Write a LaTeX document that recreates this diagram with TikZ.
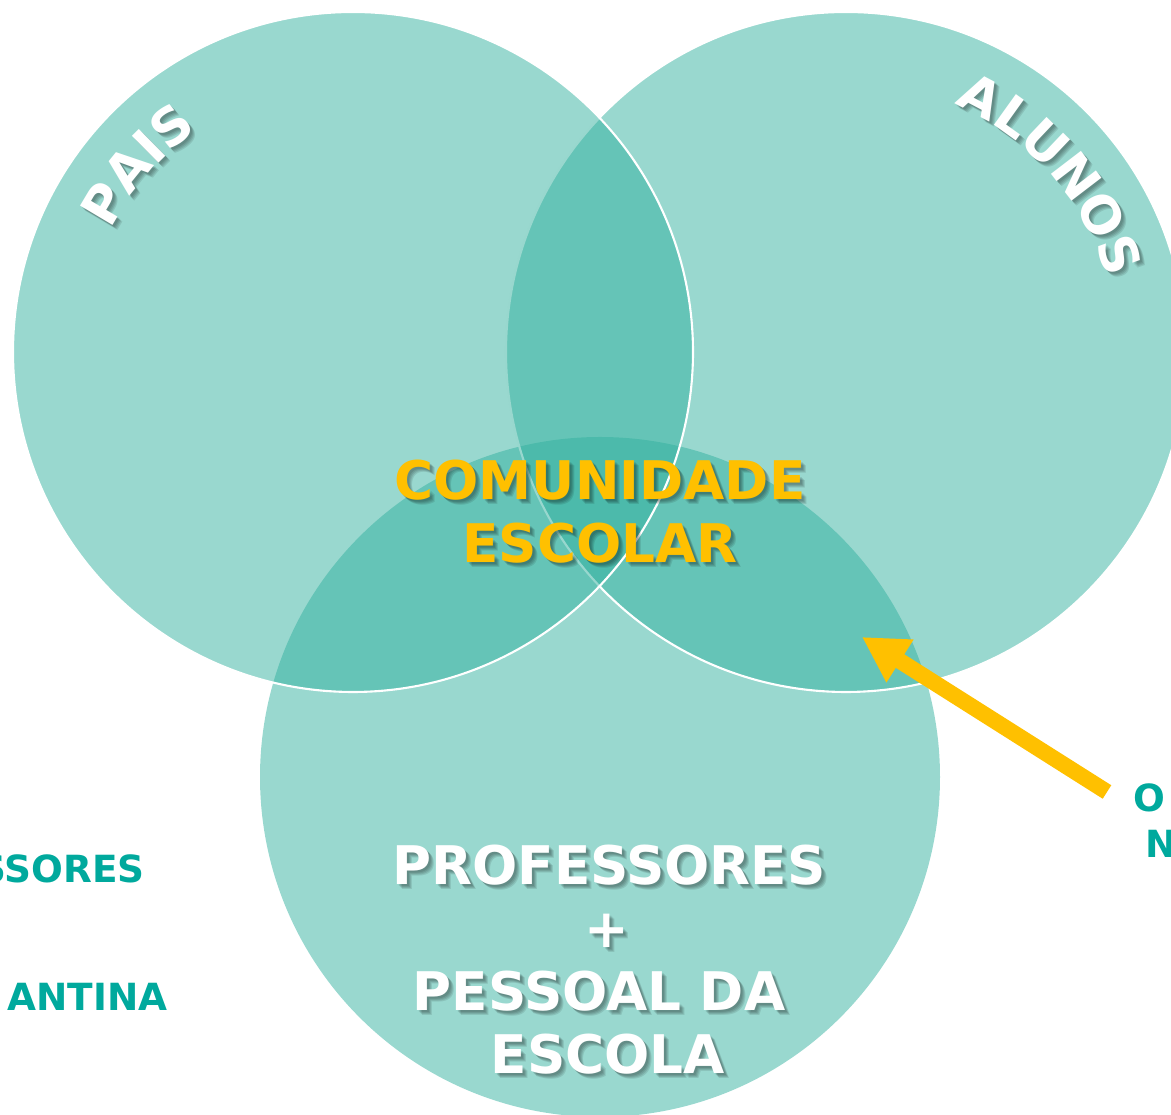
\documentclass[tikz,border=0pt]{standalone}
\usepackage{fontspec}
\setmainfont{DejaVu Sans}
\usetikzlibrary{arrows.meta,decorations.text}

\definecolor{circfill}{RGB}{51,177,159}
\definecolor{gold}{RGB}{255,192,0}
\definecolor{tealtext}{RGB}{0,169,157}

\newcommand\bigfont{\bfseries\fontsize{30.3}{36}\selectfont}
\newcommand\arcfont{\bfseries\fontsize{29.5}{32}\selectfont}
\newcommand\sidefont{\bfseries\fontsize{21.3}{25}\selectfont}

% text with a soft shadow: name, position, colour, text
\newcommand\shadowtext[4]{%
  \foreach \d in {2,3,4,5}
    \node[bigtext, text=black, opacity=0.1] at ([shift={(\d,-\d)}]#2) {#4};
  \node[bigtext, text=#3] (#1) at (#2) {#4};
}

\begin{document}
\begin{tikzpicture}[x=0.02cm, y=0.02cm,
    circ/.style={fill=circfill, fill opacity=0.5, draw=white, line width=1.2pt},
    bigtext/.style={font=\bigfont, anchor=base, inner sep=0},
    sidetext/.style={font=\sidefont, text=tealtext, inner sep=0},
    arctext/.style={decorate, decoration={text along path, text={|\arcfont|#1}, text align=center, text color=white}},
    arcshadow/.style={decorate, decoration={text along path, text={|\arcfont|#1}, text align=center, text color=black}},
    arrowline/.style={draw=gold, line width=0.32cm, -{Triangle[length=0.9cm, width=0.95cm]}}
  ]
    \useasboundingbox (0,0) rectangle (1171,1115);
    % circles
    \path[circ, draw=none] (600,338) circle[radius=340]; %bottom
    \path[circ] (846,763) circle[radius=340]; %right
    \path[circ] (353,763) circle[radius=340]; %left
    %
    \foreach \d in {2,3,4,5} {
      \begin{scope}[shift={(\d,-\d)}, opacity=0.1]
        \path[arcshadow=PAIS] (353,763) ++(165:271) arc[start angle=165, end angle=113, radius=271];
        \path[arcshadow=ALUNOS] (846,763) ++(72:271) arc[start angle=72, end angle=10, radius=271];
      \end{scope}
    }
    \path[arctext=PAIS] (353,763) ++(165:271) arc[start angle=165, end angle=113, radius=271];
    \path[arctext=ALUNOS] (846,763) ++(72:271) arc[start angle=72, end angle=10, radius=271];
    %
    \shadowtext{comunidade}{600,615}{gold}{COMUNIDADE}
    \shadowtext{escolar}{600,552}{gold}{ESCOLAR}
    \shadowtext{professores}{609,230}{white}{PROFESSORES}
    \shadowtext{mais}{607,167}{white}{+}
    \shadowtext{pessoal}{599,104}{white}{PESSOAL DA}
    \shadowtext{escola}{608,41}{white}{ESCOLA}
    %
    \node[sidetext, anchor=base east] (ssores) at (145,232) {SSORES};
    \node[sidetext, anchor=base east] (antina) at (168,104) {ANTINA};
    \node[sidetext, anchor=base west] (o) at (1133,303) {O};
    \node[sidetext, anchor=base west] (n) at (1145,257) {N};
    %
    \coordinate (arrowtail) at (1107,323);
    \coordinate (arrowtip) at (862,478);
    \draw[arrowline] (arrowtail) -- (arrowtip);
\end{tikzpicture}
\end{document}
